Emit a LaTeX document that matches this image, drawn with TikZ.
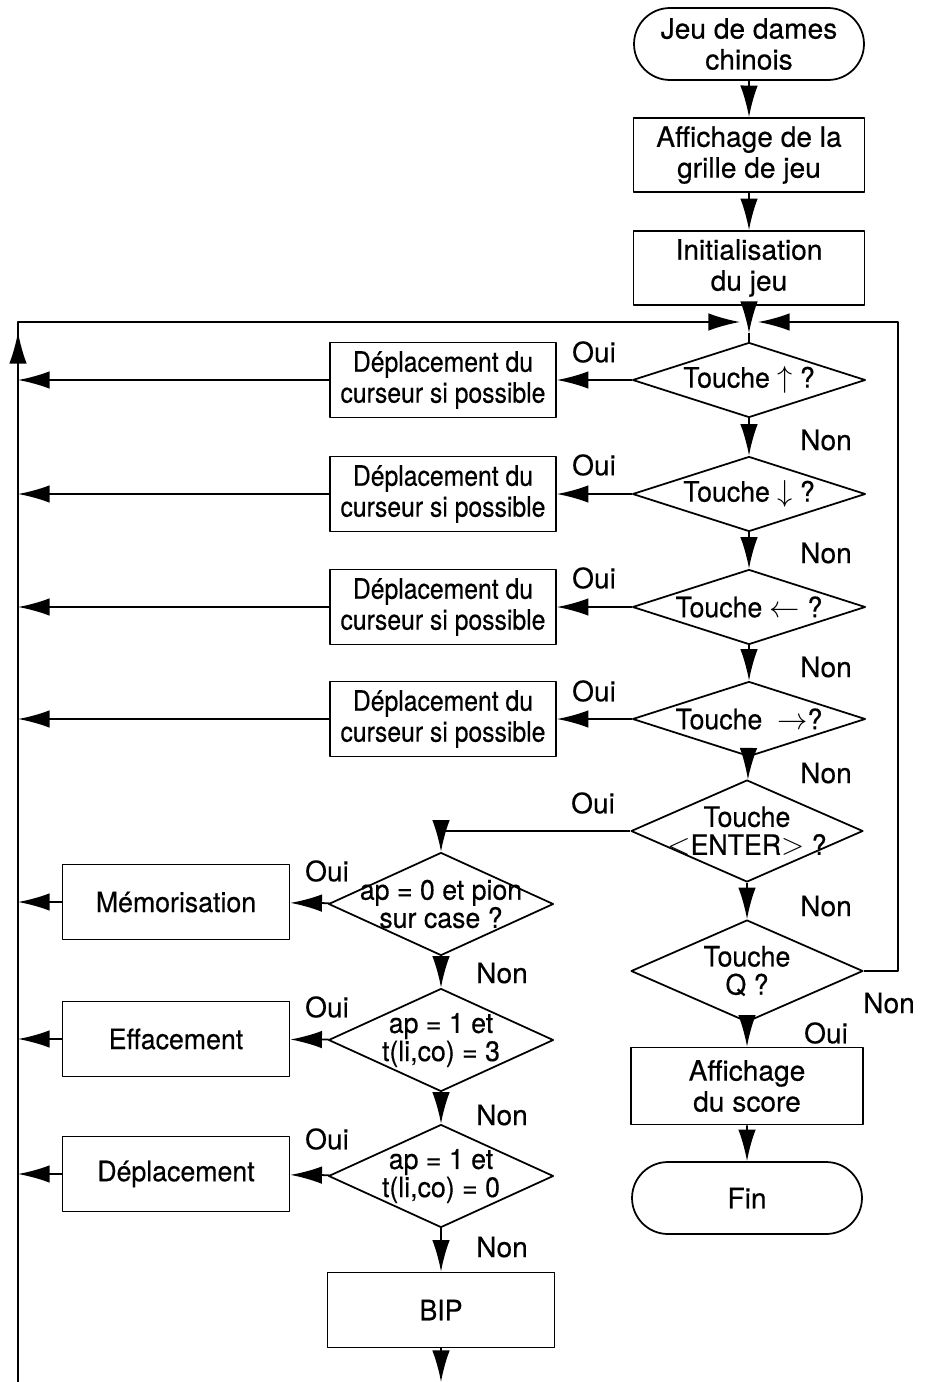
\documentclass[tikz,border=0pt]{standalone}
\usepackage{fontspec}
\setmainfont[FakeBold=0.4]{TeX Gyre Heros}
\newfontfamily\narrowfont[FakeStretch=0.88,FakeBold=0.4]{TeX Gyre Heros}
\newfontfamily\midfont[FakeStretch=0.95,FakeBold=0.4]{TeX Gyre Heros}
\usetikzlibrary{shapes.geometric,shapes.misc,arrows.meta}

\tikzset{
	texte/.style = {font=\fontsize{16}{17.6}\selectfont, align=center},
	etroit/.style = {font=\narrowfont\fontsize{16}{17.6}\selectfont, align=center},
	moyen/.style = {font=\midfont\fontsize{16}{17.6}\selectfont, align=center},
	question/.style = {font=\midfont\fontsize{16}{16}\selectfont, align=center},
	boite/.style = {draw, rectangle, inner sep=0pt, minimum width=4.62cm, minimum height=1.48cm, texte},
	petite/.style = {boite, etroit, minimum width=4.52cm, minimum height=1.5cm},
	action/.style = {boite, moyen, minimum width=4.54cm, minimum height=1.5cm},
	terminal/.style = {draw, rounded rectangle, inner sep=0pt, minimum width=4.6cm, minimum height=1.44cm, texte},
	losange/.style = {draw, diamond, inner sep=0pt, minimum width=4.66cm, minimum height=1.5cm},
	grand/.style = {losange, minimum width=4.5cm, minimum height=2.06cm}
}

\begin{document}
\begin{tikzpicture}[x=0.02cm, y=-0.02cm, line join=round, line width=1pt, >={Latex[length=18pt,width=10pt]}]
				\useasboundingbox (0,0) rectangle (931,1382);
				% colonne de droite
				\node[terminal] (debut) at (749,44) {Jeu de dames\\chinois};
				\node[boite] (grille) at (749,155) {Affichage de la\\grille de jeu};
				\node[boite] (init) at (749,268) {Initialisation\\du jeu};
				\node[losange, label={[question]center:Touche $\uparrow$ ?}] (t1) at (749,380) {};
				\node[losange, label={[question]center:Touche $\downarrow$ ?}] (t2) at (749,494) {};
				\node[losange, label={[question]center:Touche $\leftarrow$ ?}] (t3) at (749,607) {};
				\node[losange, label={[question]center:Touche~~$\rightarrow$?}] (t4) at (749,719) {};
				\node[losange, minimum width=4.64cm, minimum height=2.04cm, label={[question]center:{Touche\\$\mathord{<}$ENTER$\mathord{>}$ ?}}] (t5) at (747,831) {};
				\node[losange, minimum width=4.64cm, minimum height=2.04cm, label={[question]center:{Touche\\Q ?}}] (tq) at (747,971) {};
				\node[boite, minimum width=4.64cm, minimum height=1.54cm] (score) at (747,1086) {Affichage\\du score};
				\node[terminal] (fin) at (747,1198) {Fin};
				% deplacements du curseur
				\node[petite] (d1) at (443,380) {D\'eplacement du\\curseur si possible};
				\node[petite] (d2) at (443,494) {D\'eplacement du\\curseur si possible};
				\node[petite] (d3) at (443,607) {D\'eplacement du\\curseur si possible};
				\node[petite] (d4) at (443,719) {D\'eplacement du\\curseur si possible};
				% colonne de gauche
				\node[grand, label={[question]center:{ap = 0 et pion\\sur case ?}}] (a1) at (441,904) {};
				\node[grand, label={[question]center:{ap = 1 et\\t(li,co) = 3}}] (a2) at (441,1040) {};
				\node[grand, label={[question]center:{ap = 1 et\\t(li,co) = 0}}] (a3) at (441,1176) {};
				\node[action] (memo) at (176,902) {M\'emorisation};
				\node[action] (eff) at (176,1039) {Effacement};
				\node[action] (depl) at (176,1174) {D\'eplacement};
				\node[action] (bip) at (441,1310) {BIP};
				\path (749,322) coordinate (retour)
				(18,322) coordinate (coinhaut)
				(18,1382) coordinate (coinbas)
				(898,322) coordinate (droite);
				% fleches
				\draw[->] (debut) -- (grille);
				\draw[->] (grille) -- (init);
				\draw[->] (init) -- ([yshift=-0.22cm]retour);
				\draw ([yshift=-0.22cm]retour) -- (t1.north);
				\draw[->] (t1) -- (t2);
				\draw[->] (t2) -- (t3);
				\draw[->] (t3) -- (t4);
				\draw[->] (t4) -- (t5);
				\draw[->] (t5) -- (tq);
				\draw[->] (tq) -- (score);
				\draw[->] (score) -- (fin);
				\draw[->] (t1) -- (d1);
				\draw[->] (t2) -- (d2);
				\draw[->] (t3) -- (d3);
				\draw[->] (t4) -- (d4);
				\draw[->] (d1.west) -- (d1.west -| coinbas);
				\draw[->] (d2.west) -- (d2.west -| coinbas);
				\draw[->] (d3.west) -- (d3.west -| coinbas);
				\draw[->] (d4.west) -- (d4.west -| coinbas);
				\draw[->] (t5.west) -| (a1.north);
				\draw[->] (a1) -- (memo);
				\draw[->] (a2) -- (eff);
				\draw[->] (a3) -- (depl);
				\draw[->] (memo.west) -- (memo.west -| coinbas);
				\draw[->] (eff.west) -- (eff.west -| coinbas);
				\draw[->] (depl.west) -- (depl.west -| coinbas);
				\draw[->] (a1) -- (a2);
				\draw[->] (a2) -- (a3);
				\draw[->] (a3) -- (bip);
				\draw[->] (bip) -- (bip |- coinbas);
				\draw[->, shorten >=0.18cm] (coinbas) |- (retour);
				\draw[->] (coinbas) -- ([yshift=-0.2cm]coinhaut);
				\draw[->, shorten >=0.18cm] (tq.east) -| (droite) -- (retour);
				% etiquettes
				\path[texte] (594,352) node (o1) {Oui}
				(594,465) node (o2) {Oui}
				(594,578) node (o3) {Oui}
				(594,691) node (o4) {Oui}
				(593,803) node (o5) {Oui}
				(826,1033) node (o6) {Oui}
				(327,871) node (o7) {Oui}
				(327,1007) node (o8) {Oui}
				(327,1139) node (o9) {Oui}
				(826,440) node (n1) {Non}
				(826,553) node (n2) {Non}
				(826,667) node (n3) {Non}
				(826,773) node (n4) {Non}
				(826,906) node (n5) {Non}
				(889,1003) node (n6) {Non}
				(502,973) node (n7) {Non}
				(502,1115) node (n8) {Non}
				(502,1247) node (n9) {Non};
			\end{tikzpicture}
\end{document}
